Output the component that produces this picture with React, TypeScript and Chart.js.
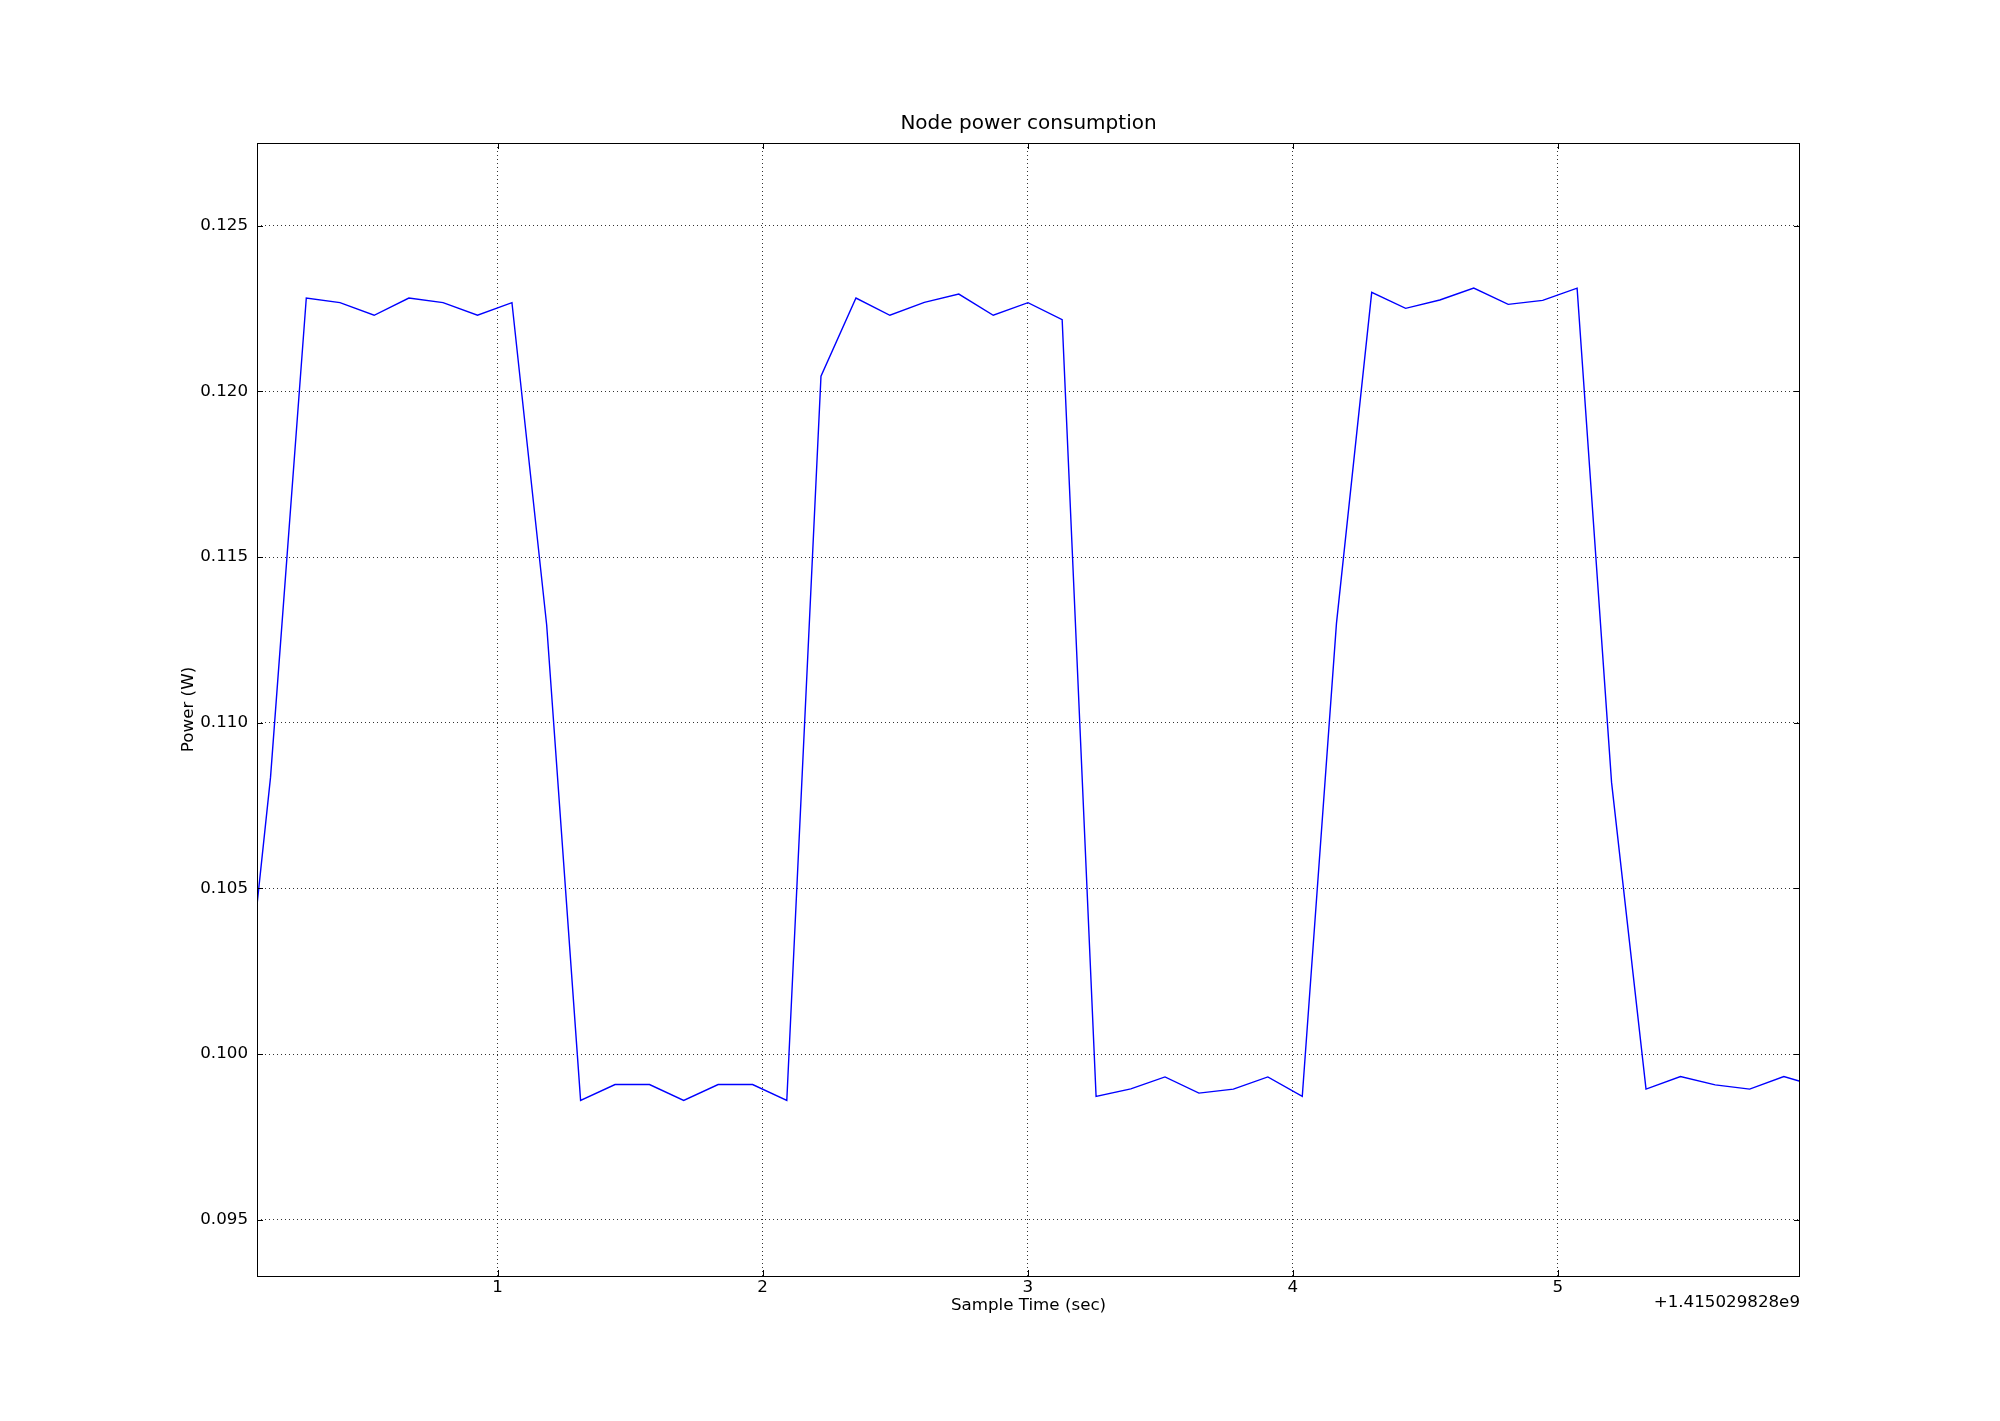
import React, { useEffect, useRef } from "react";
import { Chart, registerables } from "chart.js";

Chart.register(...registerables);

const chartTitle = "Node power consumption";
const xAxisTitle = "Sample Time (sec)";
const yAxisTitle = "Power (W)";
const timeOffsetLabel = "+1.415029828e9";

// seconds relative to the offset +1.415029828e9
const sampleTimes = [
  0.092, 0.143, 0.278, 0.405, 0.534, 0.665, 0.794, 0.924, 1.054, 1.185,
  1.313, 1.443, 1.573, 1.702, 1.832, 1.962, 2.091, 2.220, 2.352, 2.480,
  2.610, 2.740, 2.870, 3.001, 3.130, 3.258, 3.389, 3.518, 3.646, 3.776,
  3.906, 4.036, 4.165, 4.298, 4.426, 4.555, 4.683, 4.813, 4.943, 5.073,
  5.203, 5.333, 5.463, 5.594, 5.724, 5.853, 5.914,
];

const powerValues = [
  0.10450, 0.10835, 0.12282, 0.12268, 0.12230, 0.12282, 0.12268, 0.12230, 0.12268, 0.11295,
  0.09860, 0.09908, 0.09908, 0.09860, 0.09908, 0.09908, 0.09860, 0.12046, 0.12282, 0.12230,
  0.12269, 0.12294, 0.12230, 0.12268, 0.12217, 0.09872, 0.09895, 0.09931, 0.09882, 0.09894,
  0.09931, 0.09872, 0.11300, 0.12299, 0.12251, 0.12276, 0.12312, 0.12263, 0.12275, 0.12312,
  0.10820, 0.09894, 0.09932, 0.09907, 0.09894, 0.09932, 0.09918,
];

const xTickValues = [1, 2, 3, 4, 5];
const yTickValues = [0.095, 0.1, 0.105, 0.11, 0.115, 0.12, 0.125];

const xLimits = [0.092, 5.914];
const yLimits = [0.0933, 0.1275];

const FONT = "'DejaVu Sans', 'Liberation Sans', sans-serif";

const mplFramePlugin = {
  id: "mplFrame",
  afterDraw(chart: any) {
    const { ctx, chartArea, scales } = chart;
    const { left, right, top, bottom } = chartArea;
    const L = 6;
    ctx.save();
    ctx.setLineDash([]);
    ctx.strokeStyle = "#000";
    ctx.lineWidth = 1;
    ctx.beginPath();
    for (const v of xTickValues) {
      const px = Math.round(scales.x.getPixelForValue(v)) + 0.5;
      ctx.moveTo(px, bottom);
      ctx.lineTo(px, bottom - L);
      ctx.moveTo(px, top);
      ctx.lineTo(px, top + L);
    }
    for (const v of yTickValues) {
      const py = Math.round(scales.y.getPixelForValue(v)) + 0.5;
      ctx.moveTo(left, py);
      ctx.lineTo(left + L, py);
      ctx.moveTo(right, py);
      ctx.lineTo(right - L, py);
    }
    ctx.stroke();
    ctx.strokeRect(
      Math.round(left) + 0.5,
      Math.round(top) + 0.5,
      Math.round(right - left) - 1,
      Math.round(bottom - top)
    );
    ctx.fillStyle = "#000";
    ctx.font = `16.7px ${FONT}`;
    ctx.textAlign = "right";
    ctx.textBaseline = "middle";
    ctx.fillText(timeOffsetLabel, right, bottom + 27);
    ctx.restore();
  },
};

export default function App() {
  const canvasRef = useRef<HTMLCanvasElement | null>(null);

  useEffect(() => {
    const canvas = canvasRef.current;
    if (!canvas) return;
    const points = sampleTimes.map((t, i) => ({ x: t, y: powerValues[i] }));
    const chart = new Chart(canvas, {
      type: "line",
      data: {
        datasets: [
          {
            data: points,
            borderColor: "#0000ff",
            borderWidth: 1.4,
            pointRadius: 0,
            tension: 0,
            fill: false,
          },
        ],
      },
      options: {
        animation: false,
        responsive: false,
        devicePixelRatio: 1,
        layout: { padding: { left: 0, right: 200, top: 0, bottom: 0 } },
        plugins: {
          legend: { display: false },
          tooltip: { enabled: false },
          title: {
            display: true,
            fullSize: false,
            text: chartTitle,
            color: "#000",
            font: { family: FONT, size: 20, weight: "normal", lineHeight: 1.2 },
            padding: { top: 112, bottom: 7 },
          },
        },
        scales: {
          x: {
            type: "linear",
            min: xLimits[0],
            max: xLimits[1],
            afterFit(scale: any) {
              scale.height = 145;
            },
            afterBuildTicks(scale: any) {
              scale.ticks = xTickValues.map((v) => ({ value: v }));
            },
            ticks: {
              color: "#000",
              font: { family: FONT, size: 16.7 },
              padding: 2,
              maxRotation: 0,
              autoSkip: false,
              callback: (v: any) => String(v),
            },
            grid: {
              color: "rgba(0,0,0,0.8)",
              lineWidth: 1,
              drawTicks: false,
              tickLength: 0,
            },
            border: { display: false, dash: [1, 3] },
            title: {
              display: true,
              text: xAxisTitle,
              color: "#000",
              font: { family: FONT, size: 16.7, lineHeight: 1.2 },
              padding: { top: 0, bottom: 105 },
            },
          },
          y: {
            type: "linear",
            min: yLimits[0],
            max: yLimits[1],
            afterFit(scale: any) {
              scale.width = 257;
            },
            afterBuildTicks(scale: any) {
              scale.ticks = yTickValues.map((v) => ({ value: v }));
            },
            ticks: {
              color: "#000",
              font: { family: FONT, size: 16.7 },
              padding: 9,
              autoSkip: false,
              callback: (v: any) => Number(v).toFixed(3),
            },
            grid: {
              color: "rgba(0,0,0,0.8)",
              lineWidth: 1,
              drawTicks: false,
              tickLength: 0,
            },
            border: { display: false, dash: [1, 3] },
            title: {
              display: true,
              text: yAxisTitle,
              color: "#000",
              font: { family: FONT, size: 16.7, lineHeight: 1.2 },
              padding: { top: 179, bottom: 0 },
            },
          },
        },
      },
      plugins: [mplFramePlugin],
    } as any);
    return () => chart.destroy();
  }, []);

  return (
    <div
      style={{
        position: "absolute",
        left: 0,
        top: 0,
        width: 2000,
        height: 1421,
        background: "#fff",
      }}
    >
      <canvas
        ref={canvasRef}
        width={2000}
        height={1421}
        style={{ display: "block", width: 2000, height: 1421 }}
      />
    </div>
  );
}
